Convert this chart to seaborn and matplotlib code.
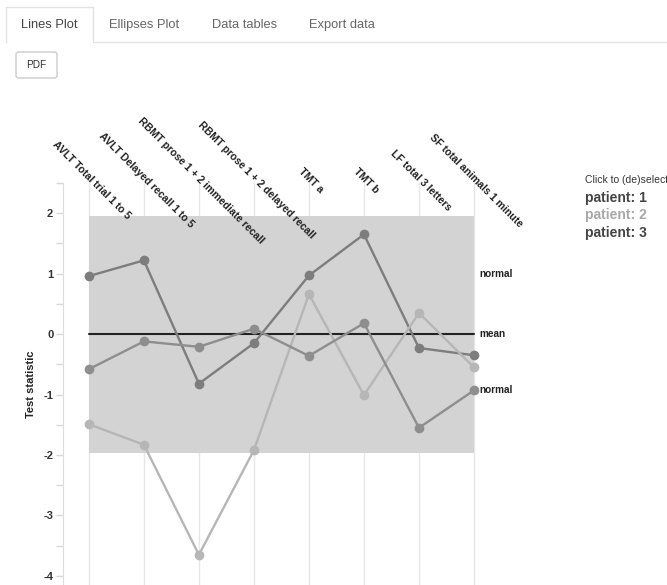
import numpy as np
import pandas as pd
import matplotlib
matplotlib.use('Agg')
import matplotlib.pyplot as plt
import seaborn as sns
from matplotlib.patches import FancyBboxPatch
from matplotlib.lines import Line2D

# test names (x axis) and test statistics per patient
tests = ['AVLT Total trial 1 to 5', 'AVLT Delayed recall 1 to 5',
         'RBMT prose 1 + 2 immediate recall', 'RBMT prose 1 + 2 delayed recall',
         'TMT a', 'TMT b', 'LF total 3 letters', 'SF total animals 1 minute']
patient_1 = [0.96, 1.22, -0.82, -0.15, 0.97, 1.65, -0.23, -0.35]
patient_2 = [-1.49, -1.83, -3.65, -1.92, 0.66, -1.01, 0.35, -0.55]
patient_3 = [-0.58, -0.12, -0.21, 0.09, -0.36, 0.18, -1.55, -0.93]
patients = ['patient: 1', 'patient: 2', 'patient: 3']
colors = ['#7d7d7d', '#b6b6b6', '#8e8e8e']
legend_colors = ['#444444', '#a8a8a8', '#444444']

normal_lo, normal_hi = -1.96, 1.96
side_labels = ['normal', 'mean', 'normal']
side_label_y = [1.0, 0.0, -0.93]

tabs = ['Lines Plot', 'Ellipses Plot', 'Data tables', 'Export data']
tab_x = [49.5, 144, 245, 342]

rows = []
for name, vals in zip(patients, [patient_1, patient_2, patient_3]):
    for i, v in enumerate(vals):
        rows.append({'pos': i, 'value': v, 'patient': name})
df = pd.DataFrame(rows)

sns.set_style('white')
plt.rcParams['font.family'] = ['Liberation Sans', 'DejaVu Sans']

W, H = 667, 585
fig = plt.figure(figsize=(W / 100, H / 100), dpi=100)

def fx(x):
    return x / W

def fy(y):
    return 1 - y / H

ax = fig.add_axes([fx(63), 0, (507 - 63) / W, (585 - 183) / H])
ax.set_xlim(-0.47, 7.6)
ax.set_ylim(-4.15, 2.48)

n = len(tests)
for i in range(n):
    ax.axvline(i, color='#e6e6e6', lw=1, zorder=0)
ax.fill_between([0, n - 1], normal_lo, normal_hi, color='#d3d3d3', lw=0, zorder=1)
ax.plot([0, n - 1], [0, 0], color='#222222', lw=1.5, zorder=2)

sns.lineplot(data=df, x='pos', y='value', hue='patient', palette=colors,
             marker='o', markersize=7, markeredgewidth=0, lw=1.7,
             legend=False, sort=False, ax=ax, zorder=3, clip_on=False)

for lab, yv in zip(side_labels, side_label_y):
    ax.text(n - 1 + 0.09, yv, lab, ha='left', va='center', fontsize=7.2,
            fontweight='bold', color='#222222')

trans = ax.get_xaxis_transform()
for i, t in enumerate(tests):
    ax.text(i + 0.04, 1.006, t, transform=trans, rotation=-45, rotation_mode='anchor',
            ha='center', va='center', fontsize=7.6, fontweight='bold',
            color='#222222', clip_on=False)

ax.set_xticks([])
ax.set_xlabel('')
ax.set_yticks(np.arange(-4, 3, 1))
ax.set_yticks(np.arange(-4, 2.6, 0.5), minor=True)
ax.set_yticklabels([str(v) for v in range(-4, 3)], fontweight='bold')
ax.tick_params(axis='y', which='both', left=True, length=5, width=1,
               color='#d8d8d8', labelsize=8, labelcolor='#333333', pad=2)
ax.set_ylabel('Test statistic', fontsize=8, fontweight='bold', color='#222222',
              labelpad=5)
for s in ['top', 'right', 'bottom']:
    ax.spines[s].set_visible(False)
ax.spines['left'].set_color('#dddddd')

# legend on the right
fig.text(fx(585), fy(180), 'Click to (de)select', fontsize=7.5, color='#333333',
         ha='left', va='center')
for k, (name, c) in enumerate(zip(patients, legend_colors)):
    fig.text(fx(585), fy(198 + 17.5 * k), name, fontsize=10, fontweight='bold',
             color=c, ha='left', va='center')

# tab bar and button
fig.add_artist(Line2D([fx(93), 1], [fy(42), fy(42)], color='#e2e2e2', lw=1))
fig.add_artist(Line2D([fx(6), fx(6), fx(93), fx(93)],
                      [fy(42), fy(7), fy(7), fy(42)], color='#e2e2e2', lw=1))
for k, (t, x) in enumerate(zip(tabs, tab_x)):
    fig.text(fx(x), fy(25), t, fontsize=9.3, ha='center', va='center',
             color='#444444' if k == 0 else '#666666')
btn = FancyBboxPatch((fx(16), fy(78)), fx(41), 26 / H,
                     boxstyle='round,pad=0,rounding_size=0.004',
                     transform=fig.transFigure, facecolor='white',
                     edgecolor='#cccccc', lw=1)
fig.add_artist(btn)
fig.text(fx(36.5), fy(65), 'PDF', fontsize=7.2, ha='center', va='center',
         color='#333333')

fig.savefig('out.png', dpi=100)
